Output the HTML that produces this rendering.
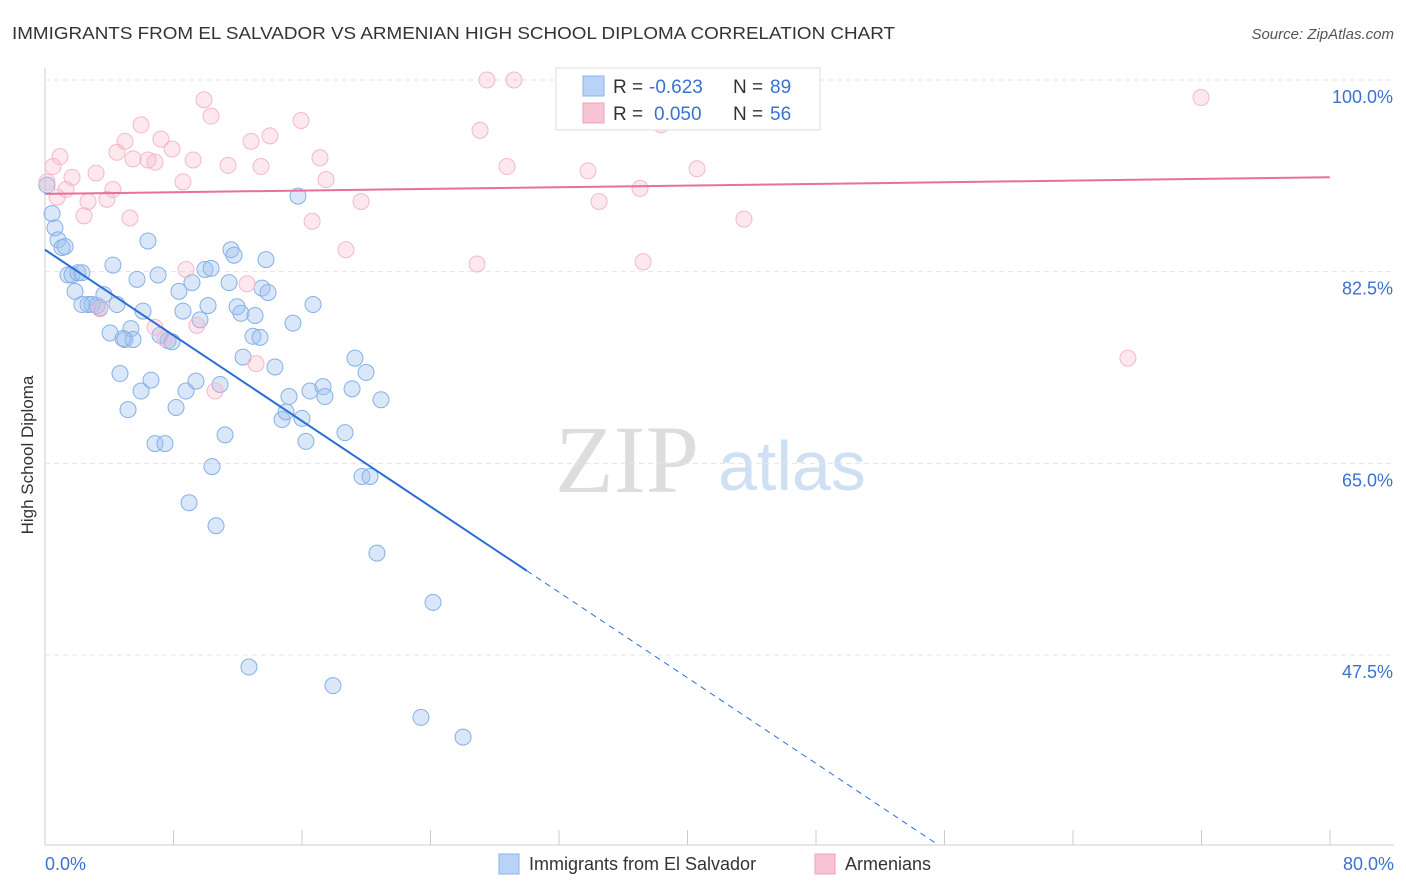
<!DOCTYPE html>
<html><head><meta charset="utf-8">
<style>
body{margin:0;background:#fff;font-family:"Liberation Sans",sans-serif;}
#wrap{position:relative;width:1406px;height:892px;overflow:hidden;}
</style></head>
<body><div id="wrap">
<svg id="svg" width="1406" height="892" xmlns="http://www.w3.org/2000/svg">
<text x="12" y="39" font-size="17.5" fill="#333" textLength="883" lengthAdjust="spacingAndGlyphs">IMMIGRANTS FROM EL SALVADOR VS ARMENIAN HIGH SCHOOL DIPLOMA CORRELATION CHART</text>
<text x="1394" y="39" font-size="15" fill="#555" font-style="italic" text-anchor="end">Source: ZipAtlas.com</text>
<text x="33" y="455" font-size="17" fill="#333" text-anchor="middle" transform="rotate(-90 33 455)">High School Diploma</text>
<g><text x="555" y="492" font-size="96" fill="#ddd" font-family="Liberation Serif,serif">ZIP</text><text x="718" y="490" font-size="70" fill="#cfe0f3">atlas</text></g>
<g id="grid"></g><g id="pts"></g><g id="lines"></g>
<g>
<rect x="556" y="68" width="264" height="62" fill="#fff" stroke="#ddd"/>
<rect x="583" y="76" width="21" height="20" fill="#b8d3f5" stroke="#8ab4e8"/>
<text x="613" y="93" font-size="19" fill="#333">R =</text>
<text x="649" y="93" font-size="19" fill="#3a72d0">-0.623</text>
<text x="733" y="93" font-size="19" fill="#333">N =</text>
<text x="770" y="93" font-size="19" fill="#3a72d0">89</text>
<rect x="583" y="103" width="21" height="20" fill="#f8c3d3" stroke="#f0a0bb"/>
<text x="613" y="120" font-size="19" fill="#333">R =</text>
<text x="654" y="120" font-size="19" fill="#3a72d0">0.050</text>
<text x="733" y="120" font-size="19" fill="#333">N =</text>
<text x="770" y="120" font-size="19" fill="#3a72d0">56</text>
</g>
<g>
<rect x="499" y="854" width="20" height="20" fill="#b8d3f5" stroke="#8ab4e8"/>
<text x="529" y="870" font-size="18" fill="#333">Immigrants from El Salvador</text>
<rect x="815" y="854" width="20" height="20" fill="#f8c3d3" stroke="#f0a0bb"/>
<text x="845" y="870" font-size="18" fill="#333">Armenians</text>
</g>
<text x="45" y="870" font-size="18" fill="#3a72d0">0.0%</text>
<text x="1394" y="870" font-size="18" fill="#3a72d0" text-anchor="end">80.0%</text>
</svg></div>
<script>
const blueX=[0.12,0.44,0.62,0.81,1.06,1.25,1.43,1.68,1.87,2.05,2.30,2.68,2.93,3.24,3.42,3.67,4.05,4.23,4.48,4.67,4.98,5.17,5.35,5.48,5.73,5.98,6.10,6.41,6.60,6.85,7.04,7.16,7.47,7.66,7.91,8.16,8.34,8.59,8.78,8.97,9.15,9.40,9.65,9.96,10.15,10.34,10.40,10.65,10.90,11.21,11.46,11.58,11.77,11.96,12.20,12.33,12.70,12.95,13.08,13.39,13.51,13.76,13.89,14.32,14.76,15.01,15.19,15.44,15.75,16.00,16.25,16.50,16.69,17.31,17.43,17.93,18.68,19.12,19.30,19.74,19.99,20.24,20.67,20.92,23.41,24.16,26.03,2.30,4.86];
const blueY=[90.4,87.8,86.5,85.4,84.7,84.8,82.2,82.2,80.7,82.4,82.4,79.5,79.5,79.4,79.2,80.4,76.9,83.1,79.5,73.2,76.3,69.9,77.3,76.3,81.8,71.6,78.9,85.3,72.6,66.8,82.2,76.7,66.8,76.2,76.1,70.1,80.7,78.9,71.6,61.4,81.5,72.5,78.1,82.7,79.4,82.8,64.7,59.3,72.2,67.6,81.5,84.5,84.0,79.3,78.7,74.7,46.4,76.6,78.5,76.5,81.0,83.6,80.6,73.8,69.0,69.7,71.1,77.8,89.4,69.1,67.0,71.6,79.5,72.0,71.1,44.7,67.8,71.8,74.6,63.8,73.3,63.8,56.8,70.8,41.8,52.3,40.0,79.5,76.4];
const pinkX=[0.12,0.50,0.75,0.93,1.31,1.68,2.43,2.68,3.18,3.42,3.86,4.23,4.48,4.98,5.29,5.48,5.98,6.41,6.85,6.85,7.22,7.47,7.91,8.59,8.78,9.22,9.46,9.90,10.34,10.59,11.40,12.58,12.83,13.14,13.45,14.01,15.94,16.63,17.12,17.50,18.74,19.68,26.90,27.09,27.52,28.77,29.20,32.88,33.81,34.50,37.05,37.24,38.36,40.60,43.52,67.43,71.98];
const pinkY=[90.7,92.1,89.3,93.0,90.0,91.1,87.6,88.9,91.5,79.1,89.1,90.0,93.4,94.4,87.4,92.8,95.9,92.7,77.4,92.5,94.6,76.4,93.7,90.7,82.7,92.7,77.6,98.2,96.7,71.6,92.2,81.4,94.4,74.1,92.1,94.9,96.3,87.1,92.9,90.9,84.5,88.9,83.2,95.4,100.0,92.1,100.0,100.0,91.7,88.9,90.1,83.4,95.9,91.9,87.3,74.6,98.4];
const yTicks=[100,82.5,65,47.5];
const yTickLabels=["100.0%","82.5%","65.0%","47.5%"];
const blueTrend=[84.5,-0.977];
const pinkTrend=[89.6,0.019];
const NS="http://www.w3.org/2000/svg";
const sx=v=>45+v*16.06, sy=v=>80+(100-v)*10.952;
function mk(tag,a,p){const e=document.createElementNS(NS,tag);for(const k in a)e.setAttribute(k,a[k]);p.appendChild(e);return e;}
const grid=document.getElementById('grid');
mk('line',{x1:45,y1:68,x2:45,y2:845,stroke:'#ccc'},grid);
mk('line',{x1:45,y1:845,x2:1394,y2:845,stroke:'#ccc'},grid);
for(let i=0;i<=10;i++){const l=mk('line',{x1:45+i*128.5,y1:830,x2:45+i*128.5,y2:845,stroke:'#ccc'},grid);

}
yTicks.forEach((t,i)=>{const l=mk('line',{x1:45,y1:sy(t),x2:1394,y2:sy(t),stroke:'#e4e4e4','stroke-dasharray':'5,4'},grid);


const tx=mk('text',{x:1393,y:sy(t)+23,'font-size':18,fill:'#3a72d0','text-anchor':'end'},grid);tx.textContent=yTickLabels[i];

});
const pts=document.getElementById('pts');
blueX.forEach((x,i)=>{const c=mk('circle',{cx:sx(x),cy:sy(blueY[i]),r:8,fill:'rgba(160,195,240,0.4)',stroke:'#86b0e6','stroke-width':1},pts);

});
pinkX.forEach((x,i)=>{const c=mk('circle',{cx:sx(x),cy:sy(pinkY[i]),r:8,fill:'rgba(248,180,200,0.3)',stroke:'#f4b8cb','stroke-width':1},pts);

});
const ln=document.getElementById('lines');
const bf=x=>blueTrend[0]+blueTrend[1]*x;
let l1=mk('line',{x1:sx(0),y1:sy(bf(0)),x2:sx(30),y2:sy(bf(30)),stroke:'#2a6fd8','stroke-width':2},ln);


const xe=(blueTrend[0]-30.3)/-blueTrend[1];
let l2=mk('line',{x1:sx(30),y1:sy(bf(30)),x2:sx(xe),y2:sy(bf(xe)),stroke:'#2a6fd8','stroke-width':1,'stroke-dasharray':'6,5'},ln);


const pf=x=>pinkTrend[0]+pinkTrend[1]*x;
let l3=mk('line',{x1:sx(0),y1:sy(pf(0)),x2:sx(80),y2:sy(pf(80)),stroke:'#e8709a','stroke-width':2},ln);


</script>
</body></html>
